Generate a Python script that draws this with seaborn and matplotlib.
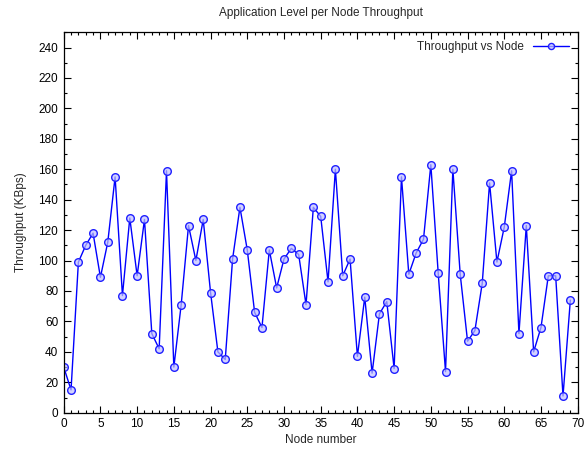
import matplotlib
matplotlib.use("Agg")
import matplotlib.pyplot as plt
from matplotlib.ticker import MultipleLocator
import seaborn as sns
import pandas as pd

nodes = list(range(70))
throughput = [30, 15, 99, 110, 118, 89, 112, 155, 77, 128,
              90, 127, 52, 42, 159, 30, 71, 123, 100, 127,
              79, 40, 35, 101, 135, 107, 66, 56, 107, 82,
              101, 108, 104, 71, 135, 129, 86, 160, 90, 101,
              37, 76, 26, 65, 73, 29, 155, 91, 105, 114,
              163, 92, 27, 160, 91, 47, 54, 85, 151, 99,
              122, 159, 52, 123, 40, 56, 90, 90, 11, 74]
series_label = "Throughput vs Node"

df = pd.DataFrame({"Node number": nodes, "Throughput (KBps)": throughput})

sns.set_theme(style="ticks")
plt.rcParams['font.family'] = ['Liberation Sans', 'DejaVu Sans']

fig = plt.figure(figsize=(5.85, 4.53), dpi=100)
ax = fig.add_axes([0.1089, 0.0889, 0.8786, 0.8398])

sns.lineplot(data=df, x="Node number", y="Throughput (KBps)", ax=ax,
             color="#0000ff", linewidth=1.0, marker="o", markersize=5.5,
             markerfacecolor=(0.75, 0.75, 1.0, 0.7), markeredgecolor="#2020ff",
             markeredgewidth=1.0, label=series_label)

ax.set_xlim(0, 70)
ax.set_ylim(0, 250)
ax.xaxis.set_major_locator(MultipleLocator(5))
ax.xaxis.set_minor_locator(MultipleLocator(1))
ax.set_yticks(list(range(0, 241, 20)))
ax.yaxis.set_minor_locator(MultipleLocator(10))
ax.tick_params(which="both", direction="in", top=True, right=True,
               labelsize=8.5, colors="black", width=0.8)
ax.tick_params(which="major", length=5, pad=4)
ax.tick_params(which="minor", length=2.5)
for s in ax.spines.values():
    s.set_visible(True)
    s.set_color("black")
    s.set_linewidth(0.9)

ax.set_xlabel("Node number", fontsize=8.5, labelpad=3)
ax.set_ylabel("Throughput (KBps)", fontsize=8.5, labelpad=8)
ax.set_title("Application Level per Node Throughput", fontsize=8.5, pad=12)

leg = ax.legend(loc="upper right", frameon=False, markerfirst=False,
                fontsize=8.5, handlelength=3.0, borderaxespad=0.35,
                handletextpad=0.8, markerscale=0.8)

fig.savefig("out.png", dpi=100)
